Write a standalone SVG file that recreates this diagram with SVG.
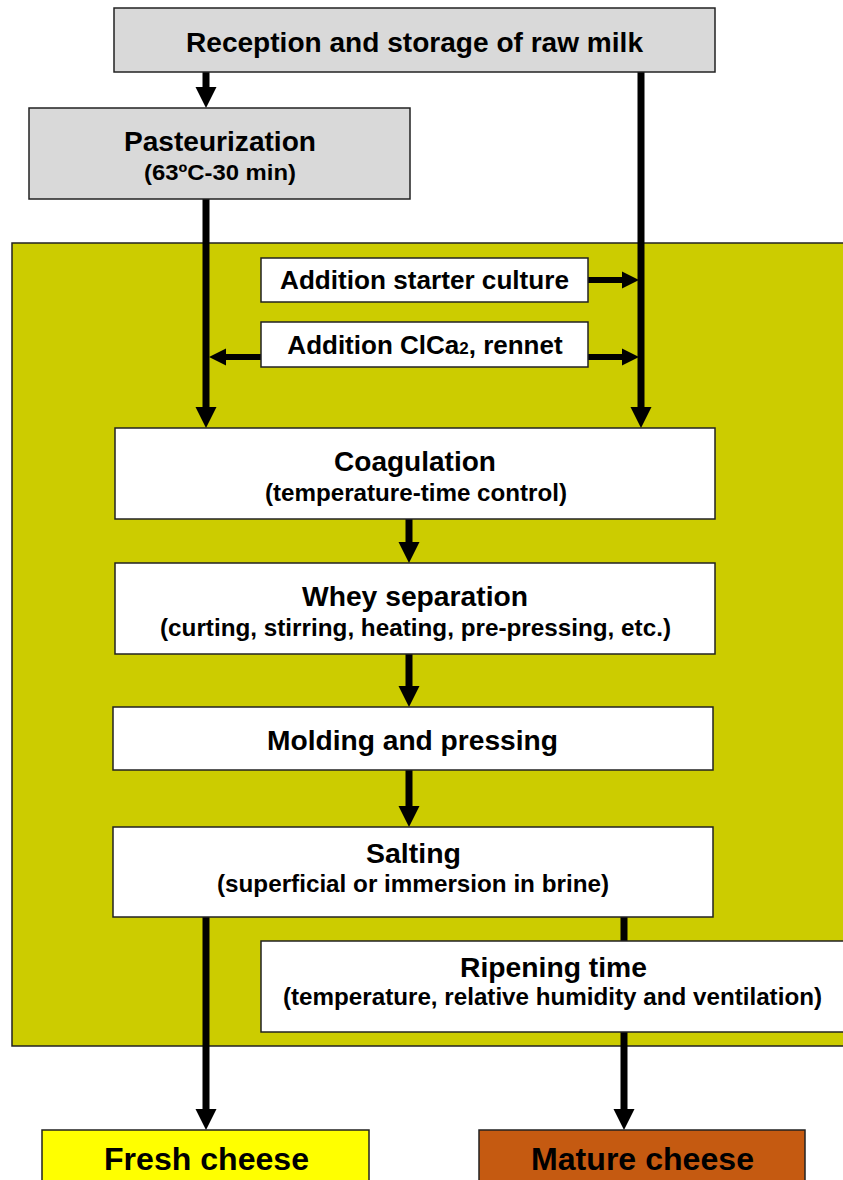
<svg xmlns="http://www.w3.org/2000/svg" width="843" height="1180" viewBox="0 0 843 1180">
<style>
.box{stroke:#222;stroke-width:1.5}
.g{fill:#d9d9d9}.w{fill:#fff}
text{font-family:"Liberation Sans",Arial,sans-serif;font-weight:bold;fill:#000;text-anchor:middle}
.ln{stroke:#000;stroke-width:7;fill:none}
.hl{stroke:#000;stroke-width:6;fill:none}
</style>
<defs>
<marker id="ad" markerUnits="userSpaceOnUse" markerWidth="22" markerHeight="22" refX="9" refY="10.5" orient="auto" viewBox="0 0 22 21">
<path d="M0,0 L21,10.5 L0,21 z" fill="#000"/>
</marker>
<marker id="ah" markerUnits="userSpaceOnUse" markerWidth="18" markerHeight="18" refX="8" refY="8.5" orient="auto" viewBox="0 0 18 17">
<path d="M0,0 L17,8.5 L0,17 z" fill="#000"/>
</marker>
</defs>
<rect id="zone" x="12" y="243" width="840" height="803" fill="#cccc00" stroke="#222" stroke-width="1.5"/>
<g id="connectors">
<line class="ln" x1="206" y1="72" x2="206" y2="96" marker-end="url(#ad)"/>
<line class="ln" x1="641" y1="72" x2="641" y2="416" marker-end="url(#ad)"/>
<line class="ln" x1="206" y1="199" x2="206" y2="416" marker-end="url(#ad)"/>
<line class="hl" x1="588" y1="280" x2="630" y2="280" marker-end="url(#ah)"/>
<line class="hl" x1="588" y1="357" x2="630" y2="357" marker-end="url(#ah)"/>
<line class="hl" x1="261" y1="357" x2="218" y2="357" marker-end="url(#ah)"/>
<line class="ln" x1="409" y1="519" x2="409" y2="551" marker-end="url(#ad)"/>
<line class="ln" x1="409" y1="654" x2="409" y2="695" marker-end="url(#ad)"/>
<line class="ln" x1="409" y1="770" x2="409" y2="815" marker-end="url(#ad)"/>
<line class="ln" x1="206" y1="917" x2="206" y2="1118" marker-end="url(#ad)"/>
<line class="ln" x1="624" y1="917" x2="624" y2="941"/>
<line class="ln" x1="624" y1="1032" x2="624" y2="1118" marker-end="url(#ad)"/>
</g>
<g id="reception">
<rect class="box g" x="114" y="8" width="601" height="64"/>
<text x="414.5" y="52" font-size="27.5" textLength="457" lengthAdjust="spacingAndGlyphs">Reception and storage of raw milk</text>
</g>
<g id="pasteurization">
<rect class="box g" x="29" y="108" width="381" height="91"/>
<text x="220" y="151" font-size="28" textLength="192" lengthAdjust="spacingAndGlyphs">Pasteurization</text>
<text x="220" y="180" font-size="22.5" textLength="152" lengthAdjust="spacingAndGlyphs">(63ºC-30 min)</text>
</g>
<g id="starter">
<rect class="box w" x="261" y="258" width="327" height="44"/>
<text x="424.5" y="289" font-size="26" textLength="289" lengthAdjust="spacingAndGlyphs">Addition starter culture</text>
</g>
<g id="clca">
<rect class="box w" x="261" y="322" width="327" height="45"/>
<text x="425" y="354" font-size="26">Addition ClCa<tspan font-size="17">2</tspan>, rennet</text>
</g>
<g id="coagulation">
<rect class="box w" x="115" y="428" width="600" height="91"/>
<text x="415" y="471" font-size="28" textLength="162" lengthAdjust="spacingAndGlyphs">Coagulation</text>
<text x="416" y="501" font-size="24" textLength="302" lengthAdjust="spacingAndGlyphs">(temperature-time control)</text>
</g>
<g id="whey">
<rect class="box w" x="115" y="563" width="600" height="91"/>
<text x="415" y="606" font-size="28" textLength="226" lengthAdjust="spacingAndGlyphs">Whey separation</text>
<text x="415.5" y="636" font-size="24" textLength="511" lengthAdjust="spacingAndGlyphs">(curting, stirring, heating, pre-pressing, etc.)</text>
</g>
<g id="molding">
<rect class="box w" x="113" y="707" width="600" height="63"/>
<text x="412.5" y="750" font-size="28" textLength="291" lengthAdjust="spacingAndGlyphs">Molding and pressing</text>
</g>
<g id="salting">
<rect class="box w" x="113" y="827" width="600" height="90"/>
<text x="413.5" y="863" font-size="28" textLength="95" lengthAdjust="spacingAndGlyphs">Salting</text>
<text x="413" y="892" font-size="24" textLength="392" lengthAdjust="spacingAndGlyphs">(superficial or immersion in brine)</text>
</g>
<g id="ripening">
<rect class="box w" x="261" y="941" width="590" height="91"/>
<text x="553.5" y="977" font-size="28" textLength="187" lengthAdjust="spacingAndGlyphs">Ripening time</text>
<text x="552.5" y="1005" font-size="24" textLength="539" lengthAdjust="spacingAndGlyphs">(temperature, relative humidity and ventilation)</text>
</g>
<g id="fresh">
<rect class="box" x="42" y="1130" width="327" height="60" fill="#ffff00"/>
<text x="206.5" y="1169.5" font-size="32" textLength="205" lengthAdjust="spacingAndGlyphs">Fresh cheese</text>
</g>
<g id="mature">
<rect class="box" x="479" y="1130" width="326" height="60" fill="#c55a11"/>
<text x="642.5" y="1169.5" font-size="32" textLength="223" lengthAdjust="spacingAndGlyphs">Mature cheese</text>
</g>
</svg>
